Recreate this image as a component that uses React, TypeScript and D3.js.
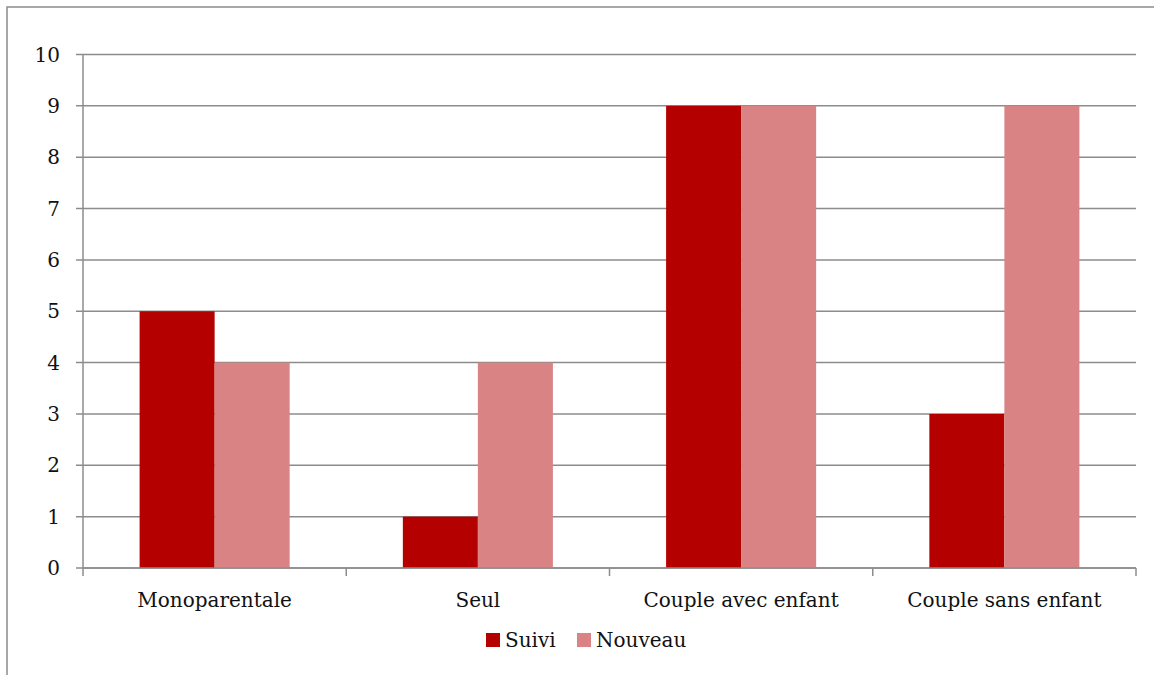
import React from "react";
import * as d3 from "d3";

const categories = ["Monoparentale", "Seul", "Couple avec enfant", "Couple sans enfant"];
const seriesNames = ["Suivi", "Nouveau"];
const suivi = [5, 1, 9, 3];
const nouveau = [4, 4, 9, 9];
const yTicks = [0, 1, 2, 3, 4, 5, 6, 7, 8, 9, 10];
const colors = ["#B50000", "#D98385"];

const W = 1154;
const H = 675;
const left = 83, right = 1136, top = 54.5, bottom = 568;
const font = "'DejaVu Serif', serif";

export default function App() {
  const x = d3.scaleBand<string>().domain(categories).range([left, right]).paddingInner(0.43).paddingOuter(0.215);
  const xs = d3.scaleBand<string>().domain(seriesNames).range([0, x.bandwidth()]).padding(0);
  const y = d3.scaleLinear().domain([0, 10]).range([bottom, top]);
  const values = [suivi, nouveau];
  const step = x.step();
  const boundaries = d3.range(categories.length + 1).map((i) => left + i * step);
  const grid = "#8c8c8c";

  return (
    <div style={{ position: "fixed", left: 0, top: 0 }}>
      <svg width={W} height={H} style={{ display: "block", background: "#fff" }}>
        <rect x={7} y={7} width={W + 20} height={H + 20} fill="none" stroke="#8c8c8c" strokeWidth={1.5} />
        {yTicks.map((t) => (
          <g key={t}>
            <line x1={76} x2={right} y1={y(t)} y2={y(t)} stroke={grid} strokeWidth={1.5} />
            <text x={60} y={y(t) + 7} textAnchor="end" fontFamily={font} fontSize={20} fill="#111">{t}</text>
          </g>
        ))}
        <line x1={left} x2={left} y1={top} y2={bottom} stroke={grid} strokeWidth={1.5} />
        {boundaries.map((b, i) => (
          <line key={i} x1={b} x2={b} y1={bottom} y2={bottom + 8} stroke={grid} strokeWidth={1.5} />
        ))}
        {categories.map((c, ci) => (
          <g key={c}>
            {seriesNames.map((s, si) => (
              <rect key={s} x={(x(c) as number) + (xs(s) as number)} y={y(values[si][ci])} width={xs.bandwidth()} height={y(0) - y(values[si][ci])} fill={colors[si]} />
            ))}
            <text x={(x(c) as number) + x.bandwidth() / 2} y={607} textAnchor="middle" fontFamily={font} fontSize={20} fill="#111">{c}</text>
          </g>
        ))}
        <line x1={left} x2={right} y1={bottom} y2={bottom} stroke={grid} strokeWidth={1.5} />
        {seriesNames.map((s, i) => {
          const lx = i === 0 ? 486 : 577;
          return (
            <g key={s}>
              <rect x={lx} y={633} width={14} height={14} fill={colors[i]} />
              <text x={lx + 19} y={647} fontFamily={font} fontSize={20} fill="#111">{s}</text>
            </g>
          );
        })}
      </svg>
    </div>
  );
}
